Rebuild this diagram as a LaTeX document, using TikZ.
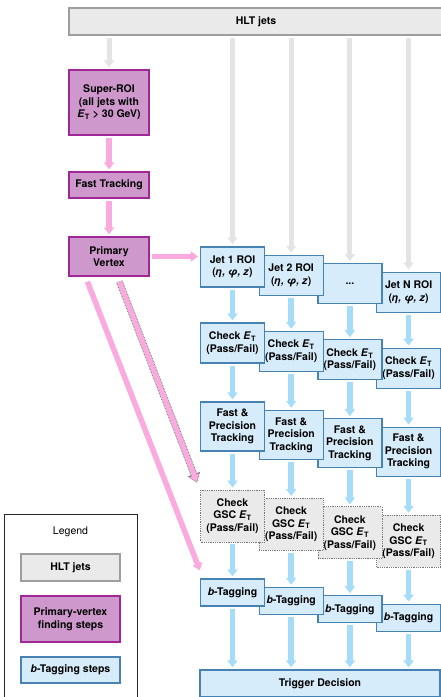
\documentclass[tikz,border=0pt]{standalone}
\usepackage{fontspec}
\setmainfont{TeX Gyre Heros}
\usetikzlibrary{arrows.meta,positioning,calc}
\definecolor{hltfill}{RGB}{234,234,234}
\definecolor{hltline}{RGB}{158,158,158}
\definecolor{hltarr}{RGB}{228,228,228}
\definecolor{gsline}{RGB}{120,120,120}
\definecolor{pvfill}{RGB}{206,152,204}
\definecolor{pvline}{RGB}{160,40,150}
\definecolor{pvarr}{RGB}{250,170,222}
\definecolor{btfill}{RGB}{214,236,250}
\definecolor{btline}{RGB}{70,130,180}
\definecolor{btarr}{RGB}{165,220,250}
\newcommand{\Et}{\textit{E}\textsubscript{T}}

\begin{document}
\begin{tikzpicture}[x=1pt,y=-1pt,>={Triangle[width=10pt,length=7pt]},font=\bfseries\fontsize{10.5}{12.5}\selectfont]
\tikzstyle{hj}=[rectangle,draw=hltline,fill=hltfill,line width=1.2pt,align=center]
\tikzstyle{pv}=[rectangle,draw=pvline,fill=pvfill,line width=1.2pt,align=center,minimum width=80pt,inner sep=1pt]
\tikzstyle{bt}=[rectangle,draw=btline,fill=btfill,line width=1.2pt,align=center,minimum width=64pt,inner sep=1pt]
\tikzstyle{gs}=[rectangle,draw=gsline,fill=hltfill,line width=0.8pt,densely dotted,align=center,minimum width=64pt,minimum height=52pt,inner sep=1pt]
\tikzstyle{ga}=[->,line width=5pt,hltarr,shorten <=2pt,shorten >=2pt]
\tikzstyle{pa}=[->,line width=5.5pt,pvarr,shorten <=2pt,shorten >=2pt]
\tikzstyle{ba}=[->,line width=5.5pt,btarr,shorten <=2pt,shorten >=2pt]
\useasboundingbox (0,0) rectangle (441,697);

% jets and primary vertex
\node[hj,minimum width=374pt,minimum height=27pt] (hlt) at (256,21.5) {HLT jets};
\node[pv,minimum height=65pt] (sroi) at (109,102.5) {Super-ROI\\(all jets with\\\Et{} > 30 GeV)};
\node[pv,minimum height=26pt] (ftrk) at (109,185) {Fast Tracking};
\node[pv,minimum height=39pt] (pvtx) at (109,256.5) {Primary\\Vertex};

% per-jet chains
\node[bt,minimum height=40pt] (roiD) at (408.6,292.2) {Jet N ROI\\(\textit{η, φ, z})}; \node[bt,minimum height=40pt] (roiC) at (349.9,283.8) {...};
\node[bt,minimum height=40pt] (roiB) at (291.2,275.4) {Jet 2 ROI\\(\textit{η, φ, z})}; \node[bt,minimum height=40pt] (roiA) at (232.5,267) {Jet 1 ROI\\(\textit{η, φ, z})};
\node[bt,minimum height=40pt] (chkD) at (408.6,368.2) {Check \Et\\(Pass/Fail)}; \node[bt,minimum height=40pt] (chkC) at (349.9,359.8) {Check \Et\\(Pass/Fail)};
\node[bt,minimum height=40pt] (chkB) at (291.2,351.4) {Check \Et\\(Pass/Fail)}; \node[bt,minimum height=40pt] (chkA) at (232.5,343) {Check \Et\\(Pass/Fail)};
\node[bt,minimum height=49pt] (trkD) at (408.6,451.7) {Fast \&\\Precision\\Tracking}; \node[bt,minimum height=49pt] (trkC) at (349.9,443.3) {Fast \&\\Precision\\Tracking};
\node[bt,minimum height=49pt] (trkB) at (291.2,434.9) {Fast \&\\Precision\\Tracking}; \node[bt,minimum height=49pt] (trkA) at (232.5,426.5) {Fast \&\\Precision\\Tracking};
\node[gs] (gscD) at (408.6,541.2) {Check\\GSC \Et\\(Pass/Fail)}; \node[gs] (gscC) at (349.9,532.8) {Check\\GSC \Et\\(Pass/Fail)};
\node[gs] (gscB) at (291.2,524.4) {Check\\GSC \Et\\(Pass/Fail)}; \node[gs] (gscA) at (232.5,516) {Check\\GSC \Et\\(Pass/Fail)};
\node[bt,minimum height=27pt] (tagD) at (408.6,617.7) {\textit{b}-Tagging}; \node[bt,minimum height=27pt] (tagC) at (349.9,609.3) {\textit{b}-Tagging};
\node[bt,minimum height=27pt] (tagB) at (291.2,600.9) {\textit{b}-Tagging}; \node[bt,minimum height=27pt] (tagA) at (232.5,592.5) {\textit{b}-Tagging};
\node[bt,minimum width=240pt,minimum height=27pt] (trig) at (320,683.5) {Trigger Decision};

% arrows
\draw[ga] (hlt.south -| sroi.north) -- (sroi.north);
\draw[ga] (hlt.south -| roiA.north) -- (roiA.north); \draw[ga] (hlt.south -| roiB.north) -- (roiB.north);
\draw[ga] (hlt.south -| roiC.north) -- (roiC.north); \draw[ga] (hlt.south -| roiD.north) -- (roiD.north);
\draw[pa] (sroi) -- (ftrk); \draw[pa] (ftrk) -- (pvtx);
\draw[pa] (pvtx.east) -- (pvtx.east -| roiA.west);
\draw[ba] (roiA) -- (chkA); \draw[ba] (roiB) -- (chkB); \draw[ba] (roiC) -- (chkC); \draw[ba] (roiD) -- (chkD);
\draw[ba] (chkA) -- (trkA); \draw[ba] (chkB) -- (trkB); \draw[ba] (chkC) -- (trkC); \draw[ba] (chkD) -- (trkD);
\draw[ba] (trkA) -- (gscA); \draw[ba] (trkB) -- (gscB); \draw[ba] (trkC) -- (gscC); \draw[ba] (trkD) -- (gscD);
\draw[ba] (gscA) -- (tagA); \draw[ba] (gscB) -- (tagB); \draw[ba] (gscC) -- (tagC); \draw[ba] (gscD) -- (tagD);
\draw[ba] (tagA) -- (tagA |- trig.north); \draw[ba] (tagB) -- (tagB |- trig.north);
\draw[ba] (tagC) -- (tagC |- trig.north); \draw[ba] (tagD) -- (tagD |- trig.north);
\coordinate (pv1) at ($(pvtx.south west)+(19,5)$); \coordinate (tip1) at ($(tagA.north west)+(0,-8)$);
\coordinate (pv2) at ($(pvtx.south west)+(51,5)$); \coordinate (tip2) at ($(gscA.north west)+(-3,-7)$);
\draw[pa,shorten <=0pt,shorten >=0pt] (pv1) -- (tip1);
\draw[line width=6.8pt,gsline,dash pattern=on 0.8pt off 0.8pt,-{Triangle[width=12.5pt,length=9pt]}] (pv2) -- (tip2);
\draw[pa,line width=5pt,shorten <=0pt,shorten >=0.8pt] (pv2) -- (tip2);

% legend
\node[draw=black!85,line width=0.8pt,minimum width=133pt,minimum height=190pt,anchor=north west] (leg) at (4,514) {};
\node[font=\mdseries\fontsize{10.5}{12.5}\selectfont] (legt) at (70.5,532) {Legend};
\node[hj,minimum width=99pt,minimum height=27pt] (lhj) at (70.5,567.5) {HLT jets};
\node[pv,minimum width=99pt,minimum height=46pt] (lpv) at (70.5,619) {Primary-vertex\\finding steps};
\node[bt,minimum width=99pt,minimum height=26pt] (lbt) at (70.5,670) {\textit{b}-Tagging steps};
\end{tikzpicture}
\end{document}
